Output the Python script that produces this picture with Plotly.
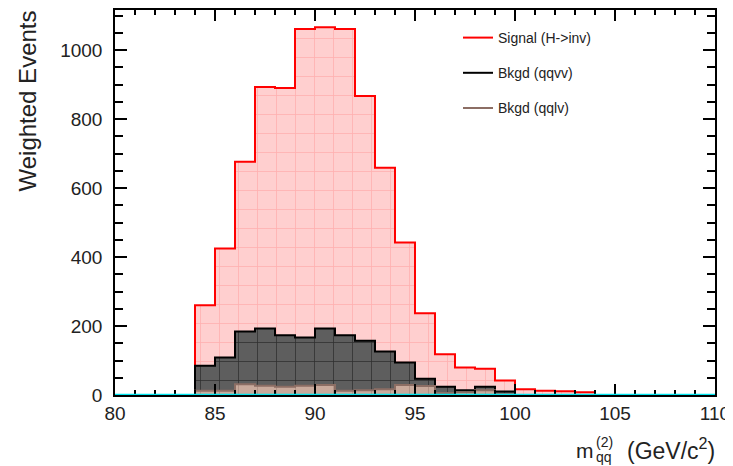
import plotly.graph_objects as go

# bin edges (GeV/c^2), 1 GeV bins from 84 to 104
bin_edges = [84, 85, 86, 87, 88, 89, 90, 91, 92, 93, 94, 95, 96, 97, 98, 99, 100, 101, 102, 103, 104]

signal_hinv = [260, 425, 676, 893, 890, 1061, 1066, 1061, 867, 659, 442, 237, 118, 80, 76, 42, 17, 12, 11, 8]
bkgd_qqvv = [85, 109, 184, 193, 173, 167, 193, 173, 157, 126, 94, 47, 24, 14, 24, 10, 0, 0, 0, 0]
bkgd_qqlv = [12, 12, 31, 27, 24, 27, 29, 12, 14, 17, 29, 26, 6, 8, 14, 3, 0, 0, 0, 0]

names = ["Signal (H->inv)", "Bkgd (qqvv)", "Bkgd (qqlv)"]
line_colors = ["#ff0000", "#000000", "#8c6e64"]
fill_bg = ["#ffcfcf", "#5e5e5e", "#c9aa9c"]
fill_fg = ["#ff8f8f", "#000000", "#8c6e64"]

x_ticks = [80, 85, 90, 95, 100, 105, 110]
y_ticks = [0, 200, 400, 600, 800, 1000]

FONT = "Liberation Sans, Arial, Helvetica, sans-serif"


def step_xy(edges, vals):
    xs = [edges[0]] + list(edges[:-1]) + [edges[-1]]
    ys = [0] + list(vals) + [0]
    return xs, ys


fig = go.Figure()
for vals, nm, lc, bg, fg in zip([signal_hinv, bkgd_qqvv, bkgd_qqlv], names, line_colors, fill_bg, fill_fg):
    xs, ys = step_xy(bin_edges, vals)
    fig.add_trace(go.Scatter(
        x=xs, y=ys, mode="lines", line=dict(shape="hv", color=lc, width=2),
        fill="tozeroy", fillcolor=bg,
        fillpattern=dict(shape="+", bgcolor=bg, fgcolor=fg, size=19, solidity=0.08),
        showlegend=False, hoverinfo="skip",
    ))

# legend entries
for i, (nm, lc) in enumerate(zip(names, line_colors)):
    fig.add_trace(go.Scatter(
        x=[None], y=[None], mode="lines", name=nm,
        line=dict(color=lc, width=2), legendgroup=f"g{i}",
    ))

# cyan baseline at zero
fig.add_hline(y=0, line=dict(color="#00e5ee", width=2.5))

axis_common = dict(
    showline=True, linecolor="black", linewidth=1.5, mirror="ticks",
    ticks="inside", tickcolor="black", tickwidth=1.5,
    showgrid=False, zeroline=False, automargin=False,
    tickfont=dict(family=FONT, size=19, color="#222222"),
)

fig.update_xaxes(
    range=[80, 110], tickvals=x_ticks, ticklen=11,
    minor=dict(dtick=1, ticks="inside", ticklen=5, tickcolor="black", tickwidth=1.5),
    ticklabelstandoff=0,
    **axis_common,
)
fig.update_yaxes(
    range=[0, 1116], tickvals=y_ticks, ticklen=12,
    minor=dict(dtick=50, ticks="inside", ticklen=8, tickcolor="black", tickwidth=1.5),
    ticklabelstandoff=7,
    **axis_common,
)

# page offset of the figure (default body margin)
OFF = 8
W, H = 733 - OFF, 466 - OFF
L, T = 115 - OFF, 10 - OFF
R = W - (715 - OFF)
B = H - (395 - OFF)
pw, ph = W - L - R, H - T - B


def px2paper(px, py):
    px, py = px - OFF, py - OFF
    return (px - L) / pw, (H - B - py) / ph


annotations = []
# y-axis title
ax, ay = px2paper(27, 9)
annotations.append(dict(text="Weighted Events", x=ax, y=ay, xref="paper", yref="paper",
                        textangle=-90, xanchor="center", yanchor="top", showarrow=False,
                        font=dict(family=FONT, size=24, color="#222222")))
# x-axis title built from pieces
ax, ay = px2paper(717, 449)
annotations.append(dict(text="(GeV/c<sup>2</sup>)", x=ax, y=ay, xref="paper", yref="paper",
                        xanchor="right", yanchor="middle", showarrow=False,
                        font=dict(family=FONT, size=23, color="#222222")))
ax, ay = px2paper(596, 450)
annotations.append(dict(text="m", x=ax, y=ay, xref="paper", yref="paper",
                        xanchor="right", yanchor="middle", showarrow=False,
                        font=dict(family=FONT, size=21, color="#222222")))
ax, ay = px2paper(594, 442)
annotations.append(dict(text="(2)", x=ax, y=ay, xref="paper", yref="paper",
                        xanchor="left", yanchor="middle", showarrow=False,
                        font=dict(family=FONT, size=14, color="#222222")))
ax, ay = px2paper(594, 457)
annotations.append(dict(text="qq", x=ax, y=ay, xref="paper", yref="paper",
                        xanchor="left", yanchor="middle", showarrow=False,
                        font=dict(family=FONT, size=14, color="#222222")))

lx, ly = px2paper(458, 22)
fig.update_layout(
    width=W, height=H,
    margin=dict(l=L, r=R, t=T, b=B, autoexpand=False),
    paper_bgcolor="white", plot_bgcolor="white",
    annotations=annotations,
    legend=dict(x=lx, y=ly, xanchor="left", yanchor="top",
                bgcolor="rgba(0,0,0,0)", borderwidth=0,
                font=dict(family=FONT, size=14, color="#222222"),
                tracegroupgap=14, itemwidth=30),
    font=dict(family=FONT),
)

fig.write_html("out.html")
